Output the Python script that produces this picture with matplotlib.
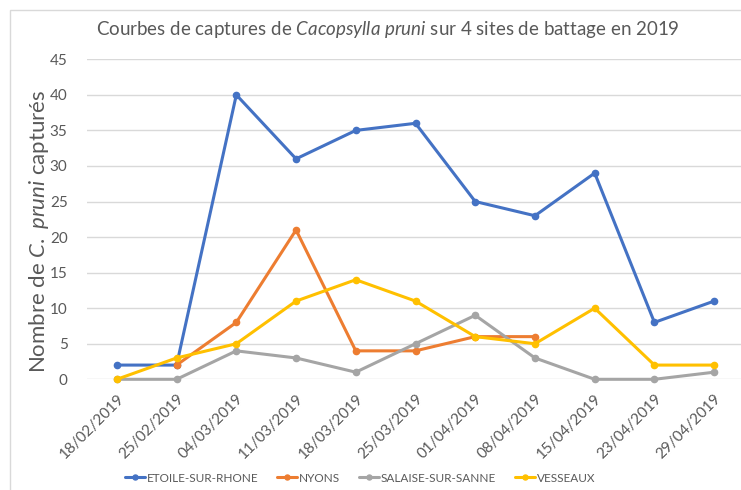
import matplotlib
matplotlib.use("Agg")
import matplotlib.pyplot as plt
from matplotlib.patches import Rectangle

dates = ['18/02/2019', '25/02/2019', '04/03/2019', '11/03/2019', '18/03/2019',
         '25/03/2019', '01/04/2019', '08/04/2019', '15/04/2019', '23/04/2019',
         '29/04/2019']
etoile = [2, 2, 40, 31, 35, 36, 25, 23, 29, 8, 11]
nyons = [None, 2, 8, 21, 4, 4, 6, 6, None, None, None]
salaise = [0, 0, 4, 3, 1, 5, 9, 3, 0, 0, 1]
vesseaux = [0, 3, 5, 11, 14, 11, 6, 5, 10, 2, 2]

series = [
    ('ETOILE-SUR-RHONE', etoile, '#4472C4'),
    ('NYONS', nyons, '#ED7D31'),
    ('SALAISE-SUR-SANNE', salaise, '#A5A5A5'),
    ('VESSEAUX', vesseaux, '#FFC000'),
]

plt.rcParams['font.family'] = ['Lato', 'DejaVu Sans']
plt.rcParams['mathtext.fontset'] = 'custom'
plt.rcParams['mathtext.rm'] = 'Lato'
plt.rcParams['mathtext.it'] = 'Lato:italic'
txt = '#595959'

fig = plt.figure(figsize=(7.41, 4.9), dpi=100)
ax = fig.add_axes([87 / 741, 1 - 379.3 / 490, 657 / 741, 320 / 490])

x = list(range(len(dates)))
for name, vals, col in series:
    xs = [i for i, v in zip(x, vals) if v is not None]
    ys = [v for v in vals if v is not None]
    ax.plot(xs, ys, color=col, lw=2.2, marker='o', ms=4.5, label=name,
            solid_capstyle='round', clip_on=False)

ax.set_xlim(-0.5, 10.5)
ax.set_ylim(0, 45)
ax.set_yticks(range(0, 46, 5))
ax.set_xticks(x)
ax.set_xticklabels(dates, rotation=45, ha='right', rotation_mode='anchor')
ax.tick_params(axis='both', length=0, labelsize=11, colors=txt)
ax.tick_params(axis='y', pad=14)
ax.tick_params(axis='x', pad=9)
ax.grid(axis='y', color='#D9D9D9', lw=1)
ax.set_axisbelow(True)
for s in ax.spines.values():
    s.set_visible(False)

ax.set_ylabel(r'Nombre de $C.\ pruni$ capturés', fontsize=16, color=txt,
              va='center')
ax.yaxis.set_label_coords(-0.0735, 0.463)
fig.text(388 / 741, 1 - 30 / 490,
         r'Courbes de captures de $Cacopsylla\ pruni$ sur 4 sites de battage en 2019',
         ha='center', va='center', fontsize=13.5, color=txt)

ax.legend(loc='center', bbox_to_anchor=(360 / 741, 1 - 478 / 490),
          bbox_transform=fig.transFigure, ncol=4, frameon=False, fontsize=8.5,
          labelcolor=txt, handlelength=1.7, columnspacing=1.6, handletextpad=0.15,
          markerscale=0.8)

fig.patches.append(Rectangle((10 / 741, -0.05), 1.1, 1 - 10 / 490 + 0.05,
                             transform=fig.transFigure, fill=False,
                             edgecolor='#D9D9D9', lw=1))

fig.savefig('out.png', dpi=100, facecolor='white')
